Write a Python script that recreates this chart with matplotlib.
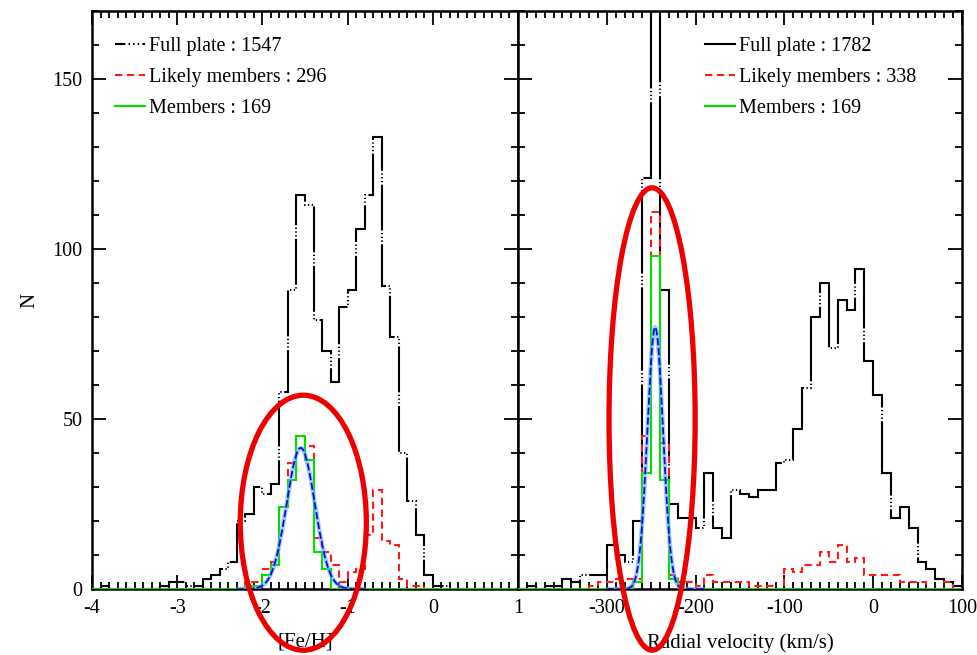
import numpy as np
import matplotlib
matplotlib.use("Agg")
import matplotlib.pyplot as plt
from matplotlib.lines import Line2D
from matplotlib.patches import Ellipse
from matplotlib.ticker import MultipleLocator

plt.rcParams['font.family'] = ['Liberation Serif', 'DejaVu Serif']

# ---------------- data ----------------
# [Fe/H] histogram, bins of 0.1 dex from -4.0 to 1.0
feh_edges = np.round(np.arange(-4.0, 1.0001, 0.1), 2)
feh_full = [0, 1, 0, 0, 0, 0, 0, 0, 1, 2,
            2, 1, 1, 3, 4, 6, 8, 20, 22, 30,
            28, 31, 58, 88, 116, 113, 79, 70, 61, 83,
            88, 106, 116, 133, 89, 74, 40, 26, 16, 4,
            1, 1, 0, 0, 0, 0, 0, 0, 0, 0]
feh_likely = [0, 0, 0, 0, 0, 0, 0, 0, 0, 0,
              0, 0, 0, 0, 0, 0, 0, 0, 2, 2,
              6, 8, 24, 37, 45, 42, 15, 11, 7, 2,
              5, 6, 16, 29, 14, 13, 3, 1, 1, 0,
              0, 0, 0, 0, 0, 0, 0, 0, 0, 0]
feh_members = [0, 0, 0, 0, 0, 0, 0, 0, 0, 0,
               0, 0, 0, 0, 0, 0, 0, 0, 1, 1,
               4, 7, 24, 32, 45, 38, 11, 6, 0, 0,
               0, 0, 0, 0, 0, 0, 0, 0, 0, 0,
               0, 0, 0, 0, 0, 0, 0, 0, 0, 0]
feh_fit = dict(amp=41.5, mean=-1.55, sigma=0.165, lo=-2.3, hi=-0.8)
feh_ticks = [-4, -3, -2, -1, 0, 1]
feh_ticklabels = ['-4', '-3', '-2', '-1', '0', '1']

# radial velocity histogram, bins of 10 km/s from -400 to 100
rv_edges = np.arange(-400, 101, 10)
rv_full = [0, 1, 0, 1, 1, 3, 2, 4, 4, 4,
           13, 10, 8, 20, 121, 286, 88, 25, 21, 21,
           18, 34, 18, 15, 29, 28, 27, 29, 29, 37,
           38, 47, 59, 80, 90, 71, 85, 82, 94, 67,
           57, 34, 21, 24, 18, 8, 6, 3, 2, 1]
rv_likely = [0, 0, 0, 0, 0, 0, 0, 0, 1, 2,
             2, 3, 3, 3, 45, 111, 43, 4, 2, 2,
             1, 4, 2, 2, 2, 2, 1, 1, 1, 0,
             6, 5, 7, 7, 11, 8, 13, 8, 9, 4,
             4, 4, 4, 2, 2, 2, 0, 0, 2, 0]
rv_members = [0, 0, 0, 0, 0, 0, 0, 0, 0, 0,
              0, 0, 0, 2, 34, 98, 32, 3, 0, 0,
              0, 0, 0, 0, 0, 0, 0, 0, 0, 0,
              0, 0, 0, 0, 0, 0, 0, 0, 0, 0,
              0, 0, 0, 0, 0, 0, 0, 0, 0, 0]
rv_fit = dict(amp=77, mean=-245.5, sigma=8.8, lo=-300, hi=-190)
rv_ticks = [-300, -200, -100, 0, 100]
rv_ticklabels = ['-300', '-200', '-100', '0', '100']

y_ticks = [0, 50, 100, 150]

left_labels = ["Full plate : 1547", "Likely members : 296", "Members : 169"]
right_labels = ["Full plate : 1782", "Likely members : 338", "Members : 169"]

# ---------------- figure ----------------
W, H = 977, 655
fig = plt.figure(figsize=(W / 100, H / 100), dpi=100)
top_px, bot_px = 11, 589
axL = fig.add_axes([92 / W, (H - bot_px) / H, (518 - 92) / W, (bot_px - top_px) / H])
axR = fig.add_axes([518 / W, (H - bot_px) / H, (962 - 518) / W, (bot_px - top_px) / H])

black_ls = (0, (22, 1.2, 0.6, 1.2, 0.6, 1.2, 0.6, 1.2))
black_ls_r = (0, (40, 1.2, 0.6, 1.2, 0.6, 1.2, 0.6, 1.2))
red_ls = (0, (3.5, 2.2))


def gauss_curve(ax, p):
    x = np.linspace(p['lo'], p['hi'], 400)
    y = p['amp'] * np.exp(-0.5 * ((x - p['mean']) / p['sigma']) ** 2)
    ax.plot(x, y, color='#6fa8ff', lw=3.2, alpha=0.6, zorder=5, solid_capstyle='butt')
    ax.plot(x, y, color='#0010e0', lw=1.3, zorder=6, linestyle=(0, (4, 1.5)))


# left panel
axL.stairs(feh_full, feh_edges, baseline=0, color='black', lw=1.5, linestyle=black_ls, zorder=2)
axL.stairs(feh_likely, feh_edges, baseline=0, color='#ff1a1a', lw=1.5, linestyle=red_ls, zorder=3)
axL.stairs(feh_members, feh_edges, baseline=0, color='#00e000', lw=1.5, zorder=4)
gauss_curve(axL, feh_fit)

# right panel
axR.stairs(rv_full, rv_edges, baseline=0, color='black', lw=1.5, linestyle=black_ls_r, zorder=2)
axR.stairs(rv_likely, rv_edges, baseline=0, color='#ff1a1a', lw=1.5, linestyle=red_ls, zorder=3)
axR.stairs(rv_members, rv_edges, baseline=0, color='#00e000', lw=1.5, zorder=4)
gauss_curve(axR, rv_fit)

for ax in (axL, axR):
    ax.set_ylim(0, 170)
    ax.set_yticks(y_ticks)
    ax.yaxis.set_minor_locator(MultipleLocator(10))
    ax.tick_params(which='both', direction='in', top=True, right=True, bottom=True, left=True,
                   width=1.3, labelsize=14.5, colors='black', pad=7)
    ax.tick_params(which='major', length=10)
    ax.tick_params(which='minor', length=5)
    for s in ax.spines.values():
        s.set_linewidth(1.8)

axL.set_xticks(feh_ticks)
axL.set_xticklabels(feh_ticklabels)
axL.xaxis.set_minor_locator(MultipleLocator(0.1))
axL.set_xlim(-4, 1)

axR.set_xticks(rv_ticks)
axR.set_xticklabels(rv_ticklabels)
axR.xaxis.set_minor_locator(MultipleLocator(10))
axR.set_xlim(-400, 100)
axR.tick_params(labelleft=False)

axL.set_xlabel('[Fe/H]', fontsize=15, labelpad=11)
axR.set_xlabel('Radial velocity (km/s)', fontsize=15, labelpad=11)
axL.set_ylabel('N', fontsize=15, labelpad=9)

# legends
hL = [Line2D([], [], color='black', lw=1.5, linestyle=(0, (5, 1.5, 0.7, 1.5, 0.7, 1.5, 0.7, 1.5))),
      Line2D([], [], color='#ff1a1a', lw=1.5, linestyle=red_ls),
      Line2D([], [], color='#00e000', lw=1.5)]
hR = [Line2D([], [], color='black', lw=1.5),
      Line2D([], [], color='#ff1a1a', lw=1.5, linestyle=red_ls),
      Line2D([], [], color='#00e000', lw=1.5)]
leg_kw = dict(loc='upper left', frameon=False, fontsize=14.5, handlelength=1.5,
              handletextpad=0.2, labelspacing=0.6, borderaxespad=0, borderpad=0)
axL.legend(hL, left_labels, bbox_to_anchor=(0.054, 0.955), **leg_kw)
axR.legend(hR, right_labels, bbox_to_anchor=(0.421, 0.955), **leg_kw)

# red annotation ellipses
axL.add_patch(Ellipse((-1.52, 19.5), 1.48, 75, fill=False, ec='#ee0000', lw=3.8,
                      clip_on=False, zorder=10))
axR.add_patch(Ellipse((-249, 50), 97, 136, fill=False, ec='#ee0000', lw=3.8,
                      clip_on=False, zorder=10))

fig.savefig('out.png', dpi=100)
